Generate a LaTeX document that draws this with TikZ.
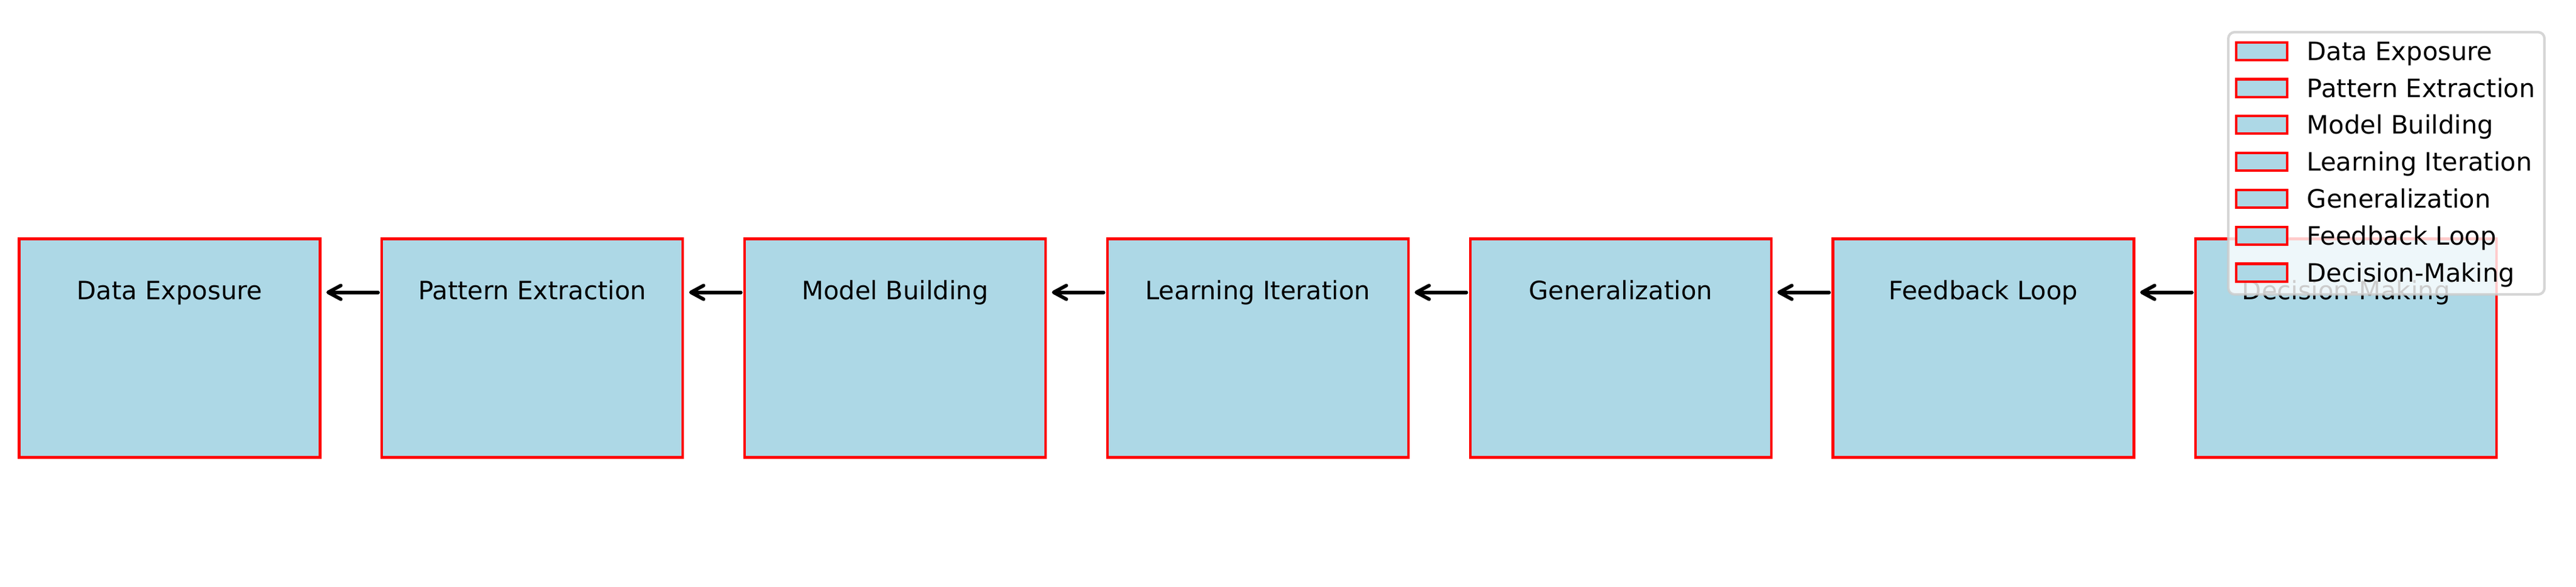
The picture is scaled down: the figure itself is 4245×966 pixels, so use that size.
\documentclass[tikz,border=0pt]{standalone}
\usepackage{fontspec}
\setmainfont{DejaVu Sans}
\usetikzlibrary{positioning,arrows.meta}
\definecolor{boxfill}{RGB}{173,216,230}
\definecolor{legendedge}{RGB}{204,204,204}
\tikzset{
    stage-box/.style = {draw=red, fill=boxfill, line width=1pt, rectangle, outer sep=0pt, inner xsep=0pt, inner ysep=0pt, minimum width=119.04pt, text height=23.88pt, text depth=62.52pt},
    flow-arrow/.style = {-{Straight Barb[length=5pt, width=5.4pt, round]}, line width=1.4pt, line cap=round, shorten >=2.5pt, shorten <=1.5pt},
    legend-frame/.style = {draw=legendedge, fill=white, opacity=0.8, line width=1pt, rounded corners=2.5pt, minimum width=125.04pt, minimum height=103.68pt},
    legend-patch/.style = {draw=red, fill=boxfill, line width=1pt, minimum width=20pt, minimum height=7pt, inner sep=0pt, outer sep=0pt},
    legend-text/.style = {anchor=base west, inner sep=0pt},
}

\begin{document}
\begin{tikzpicture}[x=0.24pt, y=-0.24pt, node distance=24.43pt]
\useasboundingbox (0,0) rectangle (4245,966);
\node[stage-box] (exposure) at (279.5,573.5) {Data Exposure};
\node[stage-box, right=of exposure] (extraction) {Pattern Extraction};
\node[stage-box, right=of extraction] (building) {Model Building};
\node[stage-box, right=of building] (iteration) {Learning Iteration};
\node[stage-box, right=of iteration] (generalization) {Generalization};
\node[stage-box, right=of generalization] (feedback) {Feedback Loop};
\node[stage-box, right=of feedback] (decision) {Decision-Making};
\foreach \src/\dst in {extraction/exposure, building/extraction, iteration/building, generalization/iteration, feedback/generalization, decision/feedback}
    \draw[flow-arrow] (\src.mid west) -- (\dst.mid east);
% legend
\node[legend-frame] (legend) at (3932.5,269) {};
\foreach \entry [count=\i] in {Data Exposure, Pattern Extraction, Model Building, Learning Iteration, Generalization, Feedback Loop, Decision-Making}{
    \node[legend-patch] (patch-\i) at (3727,23.4+60.8*\i) {};
    \node[legend-text] (entry-\i) at (3801,38.4+60.8*\i) {\entry};
}
\end{tikzpicture}
\end{document}
